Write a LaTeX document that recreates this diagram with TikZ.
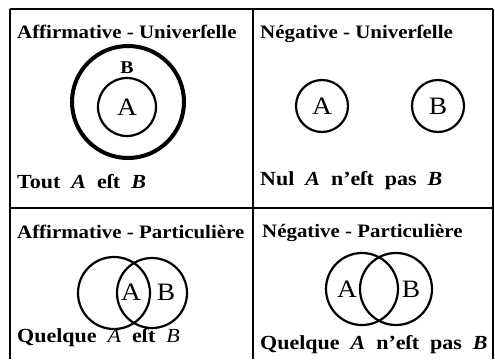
\documentclass[tikz,border=0pt]{standalone}
\usepackage{fontspec}
\setmainfont{Liberation Serif}[FakeStretch=1.1]
\newcommand\capfont{\fontsize{20}{20}\selectfont\bfseries\spaceskip=11pt plus 1pt\relax}
\begin{document}
\begin{tikzpicture}[x=1pt,y=-1pt,
  rule/.style={line width=2pt},
  ttl/.style={anchor=base west,inner sep=0pt,font=\fontsize{19}{19}\selectfont\bfseries},
  captxt/.style={anchor=base west,inner sep=0pt,font=\capfont},
  ring/.style={draw,circle,line width=2.2pt,inner sep=0pt},
  lab/.style={inner sep=0pt,font=\fontsize{25}{25}\selectfont}]
\useasboundingbox (0,0) rectangle (495,359);
% frame
\coordinate (tl) at (10,9); \coordinate (tr) at (493,9);
\coordinate (ml) at (10,208); \coordinate (mr) at (493,208);
\coordinate (bl) at (10,359); \coordinate (br) at (493,359);
\coordinate (tm) at (253,9); \coordinate (bm) at (253,359);
\draw[rule] (tl) -- (tr);
\draw[rule] (ml) -- (mr);
\draw[rule] (tl) -- (bl);
\draw[rule] (tr) -- (br);
\draw[rule] (tm) -- (bm);
% panel 1
\node[ttl] (t1) at (17,38) {Affirmative - Univerſelle};
\node[ring,line width=4pt,minimum size=112pt] (o1) at (128,102) {};
\node[ring,minimum size=58pt] (i1) at (127,107) {};
\node[lab] (a1) at (127,107) {A};
\node[lab,font=\fontsize{18}{18}\selectfont\bfseries] (b1) at (127,68) {B};
\node[captxt] (c1) at (17,188) {Tout \textit{A} eſt \textit{B}};
% panel 2
\node[ttl] (t2) at (260,38) {Négative - Univerſelle};
\node[ring,minimum size=52pt] (ca2) at (322,106) {};
\node[ring,minimum size=52pt] (cb2) at (438,106) {};
\node[lab] (a2) at (322,106) {A};
\node[lab] (b2) at (438,106) {B};
\node[captxt] (c2) at (260,185) {Nul \textit{A} n’eſt pas \textit{B}};
% panel 3
\node[ttl] (t3) at (17,238) {Affirmative - Particulière};
\node[ring,minimum size=72pt] (ca3) at (114,293) {};
\node[ring,minimum size=70pt] (cb3) at (152,293) {};
\node[lab] (a3) at (131,292) {A};
\node[lab] (b3) at (166,292) {B};
\node[captxt] (c3) at (17,342) {Quelque \textmd{\textit{A}} eſt \textmd{\textit{B}}};
% panel 4
\node[ttl] (t4) at (262,237) {Négative - Particulière};
\node[ring,minimum size=72pt] (ca4) at (362,289) {};
\node[ring,minimum size=72pt] (cb4) at (396,289) {};
\node[lab] (a4) at (347,289) {A};
\node[lab] (b4) at (411,289) {B};
\node[captxt] (c4) at (260,349) {Quelque \textit{A} n’eſt pas \textit{B}};
\end{tikzpicture}
\end{document}
